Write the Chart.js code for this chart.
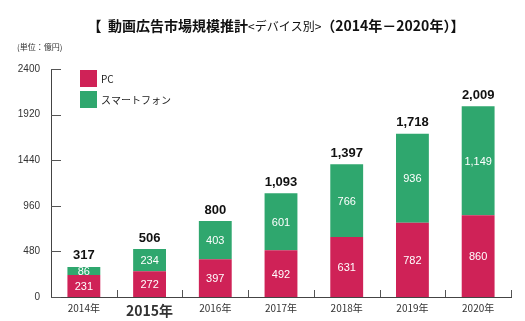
<!DOCTYPE html>
<html>
<head>
<meta charset="utf-8">
<script src="https://cdn.jsdelivr.net/npm/chart.js@4.4.1/dist/chart.umd.min.js"></script>
<style>
  html, body { margin: 0; padding: 0; background: #fff; }
  #wrap { width: 525px; height: 321px; position: relative; }
</style>
</head>
<body>
<div id="wrap"><canvas id="myChart"></canvas></div>
<script>
const years = ['2014年', '2015年', '2016年', '2017年', '2018年', '2019年', '2020年'];
const pcValues = [231, 272, 397, 492, 631, 782, 860];
const spValues = [86, 234, 403, 601, 766, 936, 1149];
const totals = [317, 506, 800, 1093, 1397, 1718, 2009];
const yTicks = [0, 480, 960, 1440, 1920, 2400];
const seriesNames = ['PC', 'スマートフォン'];

const PC_COLOR = '#cf2257';
const SP_COLOR = '#2fa76e';
const FONT = 'Helvetica, Arial, "Liberation Sans", "Noto Sans CJK JP", sans-serif';
const JP_FONT = '"Noto Sans CJK JP", Helvetica, Arial, sans-serif';

const fmt = v => v.toLocaleString('en-US');

// title, unit, legend, inward ticks, value labels
const decor = {
  id: 'decor',
  afterDraw(chart) {
    const c = chart.ctx;
    const x = chart.scales.x;
    const y = chart.scales.y;
    const area = chart.chartArea;
    c.save();

    // title
    const parts = [
      ['【  動画広告市場規模推計', 'bold 14px ' + JP_FONT],
      ['<デバイス別>', '12px ' + JP_FONT],
      ['（2014年－2020年）】', 'bold 14px ' + JP_FONT]
    ];
    let w = 0;
    parts.forEach(p => { c.font = p[1]; w += c.measureText(p[0]).width; });
    let tx = 276 - w / 2;
    c.fillStyle = '#111';
    c.textBaseline = 'middle';
    c.textAlign = 'left';
    parts.forEach(p => { c.font = p[1]; c.fillText(p[0], tx, 26); tx += c.measureText(p[0]).width; });

    c.font = '8px ' + JP_FONT;
    c.fillStyle = '#333';
    c.fillText('(単位：億円)', 17, 47);

    // legend
    const cols = [PC_COLOR, SP_COLOR];
    seriesNames.forEach((name, i) => {
      const ly = 70 + i * 21;
      c.fillStyle = cols[i];
      c.fillRect(80, ly, 17, 17);
      c.fillStyle = '#222';
      c.font = '10px ' + JP_FONT;
      c.fillText(name, 101, ly + 9);
    });

    // inward ticks
    c.strokeStyle = '#555';
    c.lineWidth = 1;
    yTicks.forEach(v => {
      const py = Math.round(y.getPixelForValue(v)) + 0.5;
      c.beginPath();
      c.moveTo(area.left, py);
      c.lineTo(area.left + 10, py);
      c.stroke();
    });
    const step = x.getPixelForValue(1) - x.getPixelForValue(0);
    for (let i = 0; i < years.length; i++) {
      const px = Math.round(x.getPixelForValue(i) + step / 2) + 0.5;
      c.beginPath();
      c.moveTo(px, area.bottom);
      c.lineTo(px, area.bottom - 7);
      c.stroke();
    }

    // value labels
    c.textAlign = 'center';
    chart.data.datasets.forEach((ds, di) => {
      const meta = chart.getDatasetMeta(di);
      meta.data.forEach((bar, i) => {
        const mid = (bar.y + bar.base) / 2;
        c.fillStyle = '#fff';
        c.font = '11px ' + FONT;
        c.fillText(fmt(ds.data[i]), bar.x, mid + 1);
      });
    });
    const top = chart.getDatasetMeta(1);
    top.data.forEach((bar, i) => {
      c.fillStyle = '#111';
      c.font = 'bold 13px ' + FONT;
      c.fillText(fmt(totals[i]), bar.x, bar.y - 11);
    });
    c.restore();
  }
};

new Chart(document.getElementById('myChart'), {
  type: 'bar',
  data: {
    labels: years,
    datasets: [
      { label: seriesNames[0], data: pcValues, backgroundColor: PC_COLOR, barPercentage: 0.5, categoryPercentage: 1 },
      { label: seriesNames[1], data: spValues, backgroundColor: SP_COLOR, barPercentage: 0.5, categoryPercentage: 1 }
    ]
  },
  options: {
    responsive: true,
    maintainAspectRatio: false,
    animation: false,
    layout: { padding: { top: 69, right: 14, left: 0, bottom: 0 } },
    plugins: { legend: { display: false }, title: { display: false }, tooltip: { enabled: false } },
    scales: {
      x: {
        stacked: true,
        grid: { display: false, drawTicks: false },
        border: { display: true, color: '#444', width: 1 },
        ticks: {
          padding: 5,
          color: '#333',
          font: ctx => ctx.index === 1 ? { family: JP_FONT, size: 14, weight: 'bold' } : { family: JP_FONT, size: 10 }
        },
        afterFit: s => { s.height = 24; }
      },
      y: {
        stacked: true,
        min: 0,
        max: 2400,
        grid: { display: false, drawTicks: false },
        border: { display: true, color: '#444', width: 1 },
        afterBuildTicks: s => { s.ticks = yTicks.map(v => ({ value: v })); },
        ticks: { padding: 11, color: '#333', font: { family: FONT, size: 10 }, callback: v => String(v) },
        afterFit: s => { s.width = 51; }
      }
    }
  },
  plugins: [decor]
});
</script>
</body>
</html>
